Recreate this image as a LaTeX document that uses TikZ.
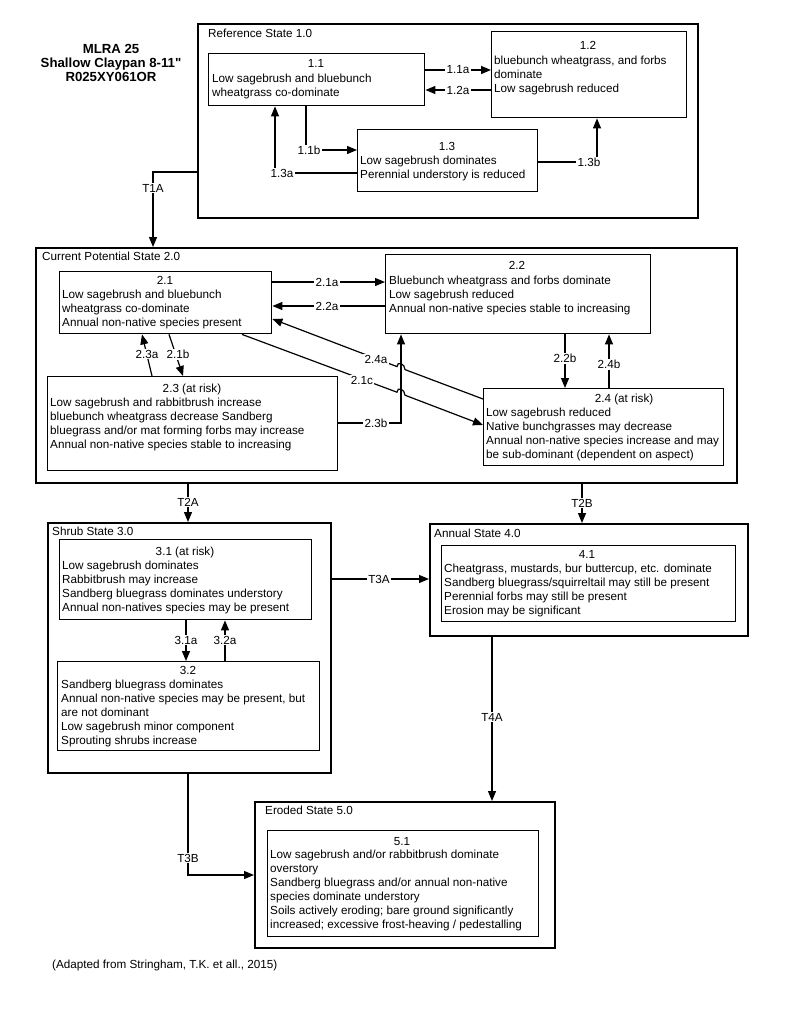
\documentclass[tikz,border=0pt]{standalone}
\usepackage{fontspec}
\setmainfont{Liberation Sans}
\newfontfamily\plainfont{Liberation Sans}
\usetikzlibrary{arrows.meta}
\newcommand\fs{\fontsize{11.7}{14}\selectfont}
\newcommand\tfs{\plainfont\fontsize{13.2}{14}\selectfont\bfseries}
\newcommand\bx[6]{\node[#1, minimum width={(#5-#3)*1pt}, minimum height={(#6-#4)*1pt}] (#2) at (#3,#4) {};}
\begin{document}
\begin{tikzpicture}[x=1pt,y=-1pt,
 outer/.style={draw, line width=1.8pt, anchor=north west, inner sep=0},
 inner/.style={draw, line width=1.4pt, anchor=north west, inner sep=0},
 conn/.style={line width=1.2pt, -{Triangle[length=10pt,width=8pt]}},
 lab/.style={fill=white, inner sep=1.2pt, font=\fs},
 txt/.style={anchor=north west, inner sep=0, align=left, font=\fs},
 num/.style={anchor=base, inner sep=0, font=\fs},
 hd/.style={anchor=base west, inner sep=0, font=\fs}]
\useasboundingbox (0,0) rectangle (800,1036);

% title
\node[anchor=north, align=center, inner sep=0, font=\tfs] (title) at (111,44.4) {MLRA 25\\Shallow Claypan 8-11"\\R025XY061OR};

% state boxes
\bx{outer}{S1}{197}{23}{697}{217}
\bx{outer}{S2}{35}{247}{736}{482}
\bx{outer}{S3}{47}{522}{330}{772}
\bx{outer}{S4}{429}{523}{747}{635}
\bx{outer}{S5}{254}{801}{554}{947}

\node[hd] (h1) at (208,37.2) {Reference State 1.0};
\node[hd] (h2) at (42,260.2) {Current Potential State 2.0};
\node[hd] (h3) at (52,535.2) {Shrub State 3.0};
\node[hd] (h4) at (434,537.2) {Annual State 4.0};
\node[hd] (h5) at (265,814.2) {Eroded State 5.0};

% community boxes
\bx{inner}{b11}{208}{53}{424}{105}
\bx{inner}{b12}{491}{31}{686}{117}
\bx{inner}{b13}{357}{129}{537}{191}
\bx{inner}{b21}{59}{271}{271}{333}
\bx{inner}{b22}{385}{254}{650}{333}
\bx{inner}{b23}{47}{376}{337}{470}
\bx{inner}{b24}{483}{388}{723}{465}
\bx{inner}{b31}{59}{539}{311}{619}
\bx{inner}{b32}{57}{661}{319}{750}
\bx{inner}{b41}{441}{545}{735}{621}
\bx{inner}{b51}{267}{830}{538}{936}

% texts
\node[num] (n11) at (316,67.2) {1.1};
\node[txt] (t11) at (212,73.8) {Low sagebrush and bluebunch\\wheatgrass co-dominate};
\node[num] (n12) at (588,49.2) {1.2};
\node[txt] (t12) at (494,55.8) {bluebunch wheatgrass, and forbs\\dominate\\Low sagebrush reduced};
\node[num] (n13) at (447,150.2) {1.3};
\node[txt] (t13) at (360,155.8) {Low sagebrush dominates\\Perennial understory is reduced};

\node[num] (n21) at (165,284.2) {2.1};
\node[txt] (t21) at (62,289.8) {Low sagebrush and bluebunch\\wheatgrass co-dominate\\Annual non-native species present};
\node[num] (n22) at (517,269.2) {2.2};
\node[txt] (t22) at (389,275.8) {Bluebunch wheatgrass and forbs dominate\\Low sagebrush reduced\\Annual non-native species stable to increasing};
\node[num] (n23) at (192,392.2) {2.3 (at risk)};
\node[txt] (t23) at (50,397.8) {Low sagebrush and rabbitbrush increase\\bluebunch wheatgrass decrease Sandberg\\bluegrass and/or mat forming forbs may increase\\Annual non-native species stable to increasing};
\node[num] (n24) at (624,402.2) {2.4 (at risk)};
\node[txt] (t24) at (486,407.8) {Low sagebrush reduced\\Native bunchgrasses may decrease\\Annual non-native species increase and may\\be sub-dominant (dependent on aspect)};

\node[num] (n31) at (185,555.2) {3.1 (at risk)};
\node[txt] (t31) at (62,560.8) {Low sagebrush dominates\\Rabbitbrush may increase\\Sandberg bluegrass dominates understory\\Annual non-natives species may be present};
\node[num] (n32) at (188,674.2) {3.2};
\node[txt] (t32) at (61,679.8) {Sandberg bluegrass dominates\\Annual non-native species may be present, but\\are not dominant\\Low sagebrush minor component\\Sprouting shrubs increase};

\node[num] (n41) at (587,558.2) {4.1};
\node[txt] (t41) at (444,563.8) {Cheatgrass, mustards, bur buttercup, etc. dominate\\Sandberg bluegrass/squirreltail may still be present\\Perennial forbs may still be present\\Erosion may be significant};

\node[num] (n51) at (402,845.2) {5.1};
\node[txt] (t51) at (270,849.8) {Low sagebrush and/or rabbitbrush dominate\\overstory\\Sandberg bluegrass and/or annual non-native\\species dominate understory\\Soils actively eroding; bare ground significantly\\increased; excessive frost-heaving / pedestalling};

\node[hd] (foot) at (52,968.2) {(Adapted from Stringham, T.K. et all., 2015)};

% connectors state 1
\draw[conn] (b11.east |- 0,70) -- (b12.west |- 0,70);
\draw[conn] (b12.west |- 0,90) -- (b11.east |- 0,90);
\draw[conn] (b11.south -| 306,0) -- (306,150) -- (b13.west |- 0,150);
\draw[conn] (b13.west |- 0,173) -- (275,173) -- (b11.south -| 275,0);
\draw[conn] (b13.east |- 0,162) -- (597,162) -- (b12.south -| 597,0);
% state 2
\draw[conn] (b21.east |- 0,282) -- (b22.west |- 0,282);
\draw[conn] (b22.west |- 0,306) -- (b21.east |- 0,306);
\draw[conn] (b23.north -| 152,0) -- (b21.south -| 142,0);
\draw[conn] (b21.south -| 169,0) -- (b23.north -| 183,0);
\draw[conn] (b23.east |- 0,423) -- (401,423) -- (b22.south -| 401,0);
\draw[conn] (b22.south -| 565,0) -- (b24.north -| 565,0);
\draw[conn] (b24.north -| 609,0) -- (b22.south -| 609,0);
\draw[conn] (b24.west |- 0,399) -- (405,369.6) .. controls (405,363.6) and (397,360.6) .. (397,366.6) -- (b21.east |- 0,319);
\draw[conn] (b21.south -| 242,0) -- (397,392.2) .. controls (397,386.2) and (405,389.2) .. (405,395.2) -- (b24.west |- 0,425);
% state 3
\draw[conn] (b31.south -| 186,0) -- (b32.north -| 186,0);
\draw[conn] (b32.north -| 225,0) -- (b31.south -| 225,0);
% transitions
\draw[conn] (S1.west |- 0,172) -- (153,172) -- (S2.north -| 153,0);
\draw[conn] (S2.south -| 188,0) -- (S3.north -| 188,0);
\draw[conn] (S2.south -| 582,0) -- (S4.north -| 582,0);
\draw[conn] (S3.east |- 0,579) -- (S4.west |- 0,579);
\draw[conn] (S4.south -| 492,0) -- (S5.north -| 492,0);
\draw[conn] (S3.south -| 188,0) -- (188,875) -- (S5.west |- 0,875);

% labels
\node[lab] (l11a) at (458,70) {1.1a};
\node[lab] (l12a) at (458,90) {1.2a};
\node[lab] (l11b) at (309,150) {1.1b};
\node[lab] (l13a) at (282,173) {1.3a};
\node[lab] (l13b) at (589,162) {1.3b};
\node[lab] (lT1A) at (153,188) {T1A};
\node[lab] (l21a) at (327,282) {2.1a};
\node[lab] (l22a) at (327,306) {2.2a};
\node[lab] (l23a) at (147,354) {2.3a};
\node[lab] (l21b) at (178,354) {2.1b};
\node[lab] (l24a) at (376,359) {2.4a};
\node[lab] (l21c) at (362,380) {2.1c};
\node[lab] (l23b) at (376,423) {2.3b};
\node[lab] (l22b) at (565,358) {2.2b};
\node[lab] (l24b) at (609,364) {2.4b};
\node[lab] (lT2A) at (188,502) {T2A};
\node[lab] (lT2B) at (582,503) {T2B};
\node[lab] (l31a) at (186,640) {3.1a};
\node[lab] (l32a) at (225,640) {3.2a};
\node[lab] (lT3A) at (379,579) {T3A};
\node[lab] (lT4A) at (492,717) {T4A};
\node[lab] (lT3B) at (188,858) {T3B};
\end{tikzpicture}
\end{document}
